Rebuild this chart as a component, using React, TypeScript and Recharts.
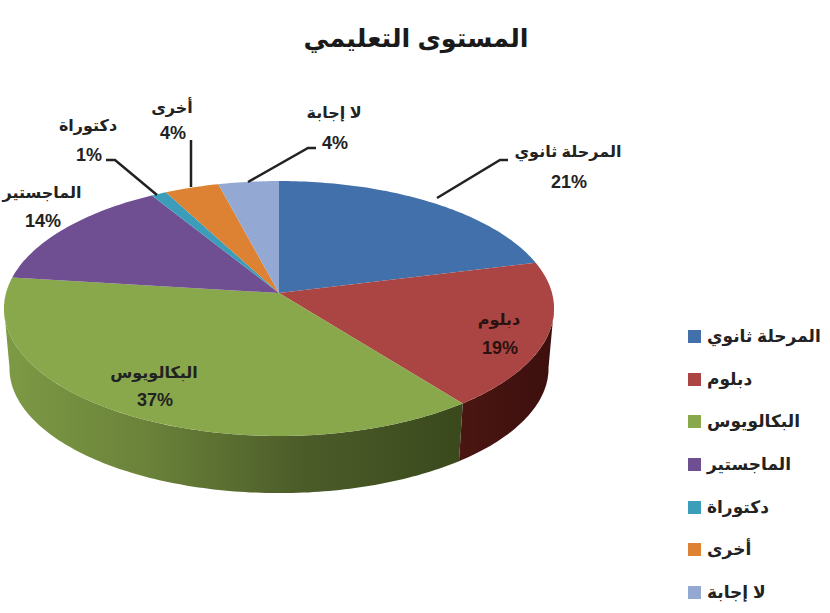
import { PieChart, Pie, Legend } from 'recharts';

const categories = ['المرحلة ثانوي', 'دبلوم', 'البكالويوس', 'الماجستير', 'دكتوراة', 'أخرى', 'لا إجابة'];
const shares = [21, 18.6, 37.4, 14.4, 1, 3.6, 4];
const colors = ['#4270aa', '#aa4543', '#89a84c', '#6f4e92', '#3b9db9', '#dd8232', '#93a9d4'];

// hand placed text and leader lines, same order as categories
const labelSpots = [
  { x: 568, y: 151 },
  { x: 499, y: 319 },
  { x: 154, y: 372 },
  { x: 42, y: 192 },
  { x: 88, y: 125 },
  { x: 172, y: 107 },
  { x: 334, y: 112 },
];
const labelGaps = [31, 29, 28, 29, 30, 26, 31];
const labelColors = ['#222', '#2a1210', '#222', '#222', '#222', '#222', '#222'];
const leaders = [
  '437,198 500,160 508,160',
  '',
  '',
  '',
  '157,195 115,160 106,160',
  '191,187 191,140',
  '248,182 308,148 316,148',
];

const chartData = categories.map((name, i) => ({ name, value: shares[i], fill: colors[i] }));

const FONT = '"Liberation Sans", "DejaVu Sans", sans-serif';

// tilted pie: circle angle to screen point, near side bigger than far side
const TILT = 0.46;
const PERSPECTIVE = 0.1216;
const WALL_DROP = 60;
const WALL_SCALE = 0.98;
const WALL_FROM = 96.8;
const WALL_TO = 263.2;

const project = (r: number, deg: number) => {
  const a = (deg * Math.PI) / 180;
  const u = Math.sin(a);
  const v = -Math.cos(a);
  const d = 1 - PERSPECTIVE * v;
  return [(r * u) / d, (r * TILT * v) / d];
};

const rim = (cx: number, cy: number, r: number, from: number, to: number, scale = 1, drop = 0) => {
  const pts: string[] = [];
  const steps = Math.max(1, Math.ceil(Math.abs(to - from)));
  for (let i = 0; i <= steps; i++) {
    const [x, y] = project(r, from + ((to - from) * i) / steps);
    pts.push(`${(cx + x * scale).toFixed(1)} ${(cy + y * scale + drop).toFixed(1)}`);
  }
  return pts;
};

function TiltedSector(props: any) {
  const { cx, cy, outerRadius, startAngle, endAngle, fill, index } = props;
  const from = 90 - startAngle;
  const to = 90 - endAngle;
  const wallFrom = Math.max(from, WALL_FROM);
  const wallTo = Math.min(to, WALL_TO);
  const top = rim(cx, cy, outerRadius, from, to);
  return (
    <g>
      {wallTo > wallFrom && (
        <path
          fill={`url(#wall-${index})`}
          d={`M${rim(cx, cy, outerRadius, wallFrom, wallTo).join(' L')} L${rim(cx, cy, outerRadius, wallTo, wallFrom, WALL_SCALE, WALL_DROP).join(' L')} Z`}
        />
      )}
      <path fill={fill} d={`M${cx} ${cy} L${top.join(' L')} Z`} />
    </g>
  );
}

const renderLabel = ({ index, percent }: any) => {
  const spot = labelSpots[index];
  return (
    <g key={index} fill={labelColors[index]} fontFamily={FONT} fontWeight="bold" textAnchor="middle">
      <text x={spot.x} y={spot.y} fontSize={16} dominantBaseline="central" direction="rtl">
        {categories[index]}
      </text>
      <text x={spot.x + 1} y={spot.y + labelGaps[index]} fontSize={18} dominantBaseline="central">
        {`${Math.round(percent * 100)}%`}
      </text>
    </g>
  );
};

const renderLeader = ({ index }: any) => {
  if (!leaders[index]) return <g key={index} />;
  return <polyline key={index} points={leaders[index]} fill="none" stroke="#222" strokeWidth={2.5} />;
};

const renderLegend = ({ payload }: any) => (
  <div style={{ fontFamily: FONT, fontWeight: 'bold', fontSize: 17, color: '#222' }}>
    {payload.map((entry: any) => (
      <div key={entry.value} style={{ display: 'flex', alignItems: 'center', height: 42.7 }}>
        <span style={{ width: 13, height: 13, background: entry.color, marginRight: 6, flex: 'none' }} />
        <span dir="rtl">{entry.value}</span>
      </div>
    ))}
  </div>
);

export default function App() {
  return (
    <div style={{ position: 'absolute', left: 0, top: 0, width: 830, height: 613, background: '#fff' }}>
      <PieChart width={830} height={613} margin={{ top: 0, right: 0, bottom: 0, left: 0 }}>
        <defs>
          <linearGradient id="wall-1" gradientUnits="userSpaceOnUse" x1="460" y1="0" x2="555" y2="0">
            <stop offset="0%" stopColor="#4a1612" />
            <stop offset="100%" stopColor="#3c0f0d" />
          </linearGradient>
          <linearGradient id="wall-2" gradientUnits="userSpaceOnUse" x1="5" y1="0" x2="462" y2="0">
            <stop offset="0%" stopColor="#7d9a45" />
            <stop offset="30%" stopColor="#6b833a" />
            <stop offset="65%" stopColor="#4c5c29" />
            <stop offset="100%" stopColor="#3a491c" />
          </linearGradient>
        </defs>
        <text
          x={416}
          y={38}
          textAnchor="middle"
          dominantBaseline="central"
          direction="rtl"
          fontFamily={FONT}
          fontWeight="bold"
          fontSize={25.5}
          fill="#1a1a1a"
        >
          المستوى التعليمي
        </text>
        <Pie
          data={chartData}
          dataKey="value"
          nameKey="name"
          cx={279}
          cy={293}
          outerRadius={273}
          startAngle={90}
          endAngle={-270}
          stroke="none"
          isAnimationActive={false}
          shape={(props: any, i: number) => <TiltedSector {...props} index={i} />}
          label={renderLabel}
          labelLine={renderLeader}
        />
        <Legend
          layout="vertical"
          content={renderLegend}
          itemSorter={null}
          wrapperStyle={{ left: 688, top: 315, width: 142 }}
        />
      </PieChart>
    </div>
  );
}
